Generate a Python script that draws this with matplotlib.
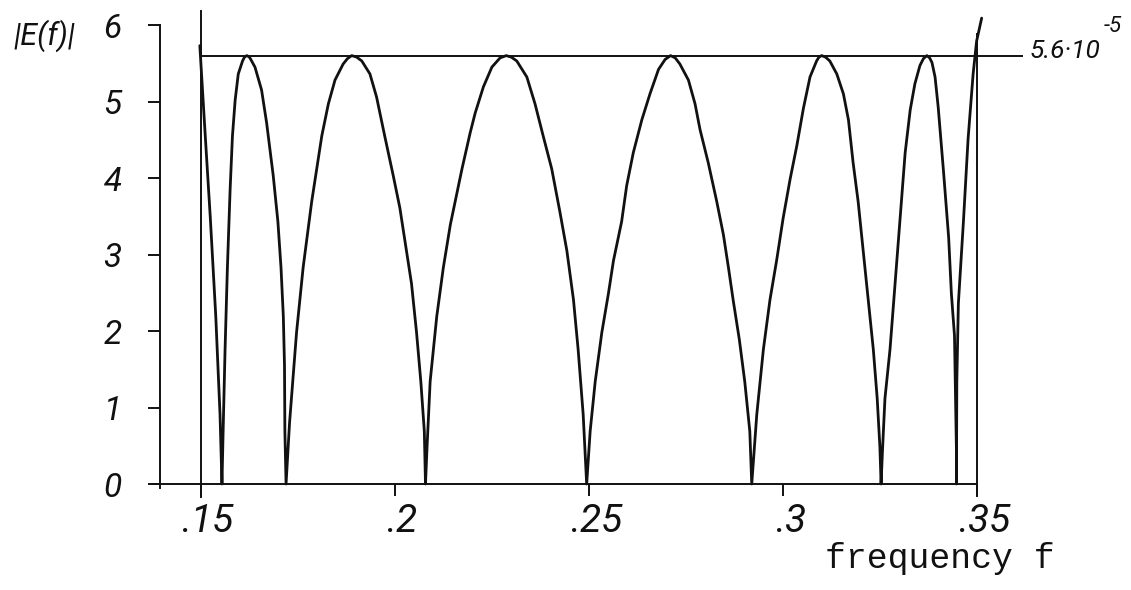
import matplotlib
matplotlib.use("Agg")
import matplotlib.pyplot as plt
from matplotlib.transforms import ScaledTranslation

# |E(f)| of the equiripple approximation over the band .15 - .35 (units of 1e-5)
freq = [
    0.1498, 0.1512, 0.1525, 0.1539, 0.1550, 0.1555,
    0.1558, 0.1563, 0.1569, 0.1576, 0.1582, 0.1589, 0.1597, 0.1608, 0.1613,
    0.1619, 0.1623, 0.1627, 0.1640, 0.1657, 0.1670, 0.1687, 0.1699, 0.1707,
    0.1713, 0.1716, 0.1717, 0.1720,
    0.1729, 0.1747, 0.1764, 0.1786, 0.1812, 0.1829, 0.1846, 0.1867, 0.1878,
    0.1889, 0.1902, 0.1915, 0.1936, 0.1953, 0.1974, 0.1996, 0.2013, 0.2030,
    0.2043, 0.2056, 0.2067, 0.2076, 0.2079,
    0.2083, 0.2091, 0.2108, 0.2125, 0.2143, 0.2173, 0.2194, 0.2207, 0.2228,
    0.2250, 0.2271, 0.2287, 0.2300, 0.2314, 0.2340, 0.2361, 0.2382, 0.2404,
    0.2425, 0.2443, 0.2460, 0.2472, 0.2485, 0.2494,
    0.2503, 0.2516, 0.2533, 0.2550, 0.2563, 0.2584, 0.2597, 0.2614, 0.2636,
    0.2657, 0.2679, 0.2696, 0.2710, 0.2722, 0.2734, 0.2756, 0.2773, 0.2786,
    0.2807, 0.2829, 0.2846, 0.2859, 0.2871, 0.2887, 0.2901, 0.2914, 0.2919,
    0.2932, 0.2949, 0.2966, 0.2983, 0.3000, 0.3018, 0.3035, 0.3052, 0.3069,
    0.3086, 0.3092, 0.3099, 0.3109, 0.3120, 0.3138, 0.3155, 0.3168, 0.3180,
    0.3193, 0.3206, 0.3219, 0.3232, 0.3242, 0.3249, 0.3252,
    0.3256, 0.3262, 0.3275, 0.3288, 0.3301, 0.3314, 0.3327, 0.3339, 0.3352,
    0.3361, 0.3370, 0.3377, 0.3383, 0.3391, 0.3399, 0.3413, 0.3426, 0.3433,
    0.3441, 0.3444, 0.3446, 0.3446,
    0.3447, 0.3451, 0.3464, 0.3476, 0.3489, 0.3498, 0.3511,
]
err = [
    5.73, 4.55, 3.48, 2.20, 0.91, 0.00,
    0.69, 1.76, 2.83, 3.85, 4.55, 5.02, 5.36, 5.53, 5.58,
    5.60, 5.59, 5.57, 5.45, 5.15, 4.72, 4.03, 3.43, 2.83,
    2.19, 1.55, 0.69, 0.00,
    0.80, 1.98, 2.83, 3.69, 4.55, 4.97, 5.28, 5.49, 5.56,
    5.60, 5.58, 5.53, 5.36, 5.06, 4.55, 4.03, 3.61, 3.05,
    2.62, 1.98, 1.34, 0.69, 0.00,
    0.48, 1.34, 2.19, 2.83, 3.39, 4.12, 4.59, 4.85, 5.19,
    5.45, 5.57, 5.60, 5.58, 5.53, 5.32, 4.97, 4.55, 4.12,
    3.56, 3.05, 2.41, 1.76, 0.91, 0.00,
    0.69, 1.34, 1.98, 2.49, 2.92, 3.43, 3.90, 4.33, 4.76,
    5.10, 5.42, 5.55, 5.60, 5.57, 5.49, 5.28, 4.97, 4.63,
    4.20, 3.69, 3.26, 2.83, 2.41, 1.89, 1.34, 0.69, 0.00,
    0.91, 1.76, 2.41, 2.92, 3.48, 3.99, 4.42, 4.91, 5.32,
    5.53, 5.58, 5.60, 5.58, 5.53, 5.36, 5.10, 4.76, 4.20,
    3.69, 3.05, 2.41, 1.76, 1.12, 0.48, 0.00,
    0.48, 1.12, 1.76, 2.62, 3.48, 4.33, 4.89, 5.23, 5.47,
    5.56, 5.60, 5.57, 5.51, 5.32, 4.93, 4.07, 3.22, 2.49,
    1.94, 1.08, 0.44, 0.00,
    1.34, 2.36, 3.43, 4.51, 5.36, 5.79, 6.09,
]

bound = 5.6                      # equiripple level, x 1e-5
band_edges = [0.15, 0.35]
xticks = [0.15, 0.20, 0.25, 0.30, 0.35]
xtick_labels = [".15", ".2", ".25", ".3", ".35"]
yticks = [0, 1, 2, 3, 4, 5, 6]
ytick_labels = ["0", "1", "2", "3", "4", "5", "6"]

plt.rcParams["font.family"] = ["Roboto", "DejaVu Sans"]
plt.rcParams["font.style"] = "italic"
plt.rcParams["font.weight"] = "normal"

INK = "#111111"

fig = plt.figure(figsize=(11.31, 5.90), dpi=100)
ax = fig.add_axes([0, 0, 1, 1])
ax.set_xlim(0.098352, 0.389547)
ax.set_ylim(-1.3856, 6.3268)
ax.patch.set_visible(False)

for side in ("top", "right"):
    ax.spines[side].set_visible(False)
ax.spines["left"].set_position(("data", 0.13955))
ax.spines["bottom"].set_position(("data", 0.0))
ax.spines["left"].set_bounds(-0.05, 6)
ax.spines["bottom"].set_bounds(0.1375, 0.35)
for side in ("left", "bottom"):
    ax.spines[side].set_linewidth(1.4)
    ax.spines[side].set_color(INK)

ax.set_xticks(xticks)
ax.set_xticklabels(xtick_labels)
ax.set_yticks(yticks)
ax.set_yticklabels(ytick_labels)
ax.tick_params(axis="y", direction="out", length=8.6, width=1.4, pad=19,
               labelsize=24, colors=INK)
ax.tick_params(axis="x", direction="out", length=8.6, width=1.4, pad=5,
               labelsize=28, colors=INK)
# hand-lettered frequency labels sit a little right of their ticks
shift = ScaledTranslation(7 / 100, 0, fig.dpi_scale_trans)
for lbl in ax.get_xticklabels():
    lbl.set_transform(lbl.get_transform() + shift)

# band edges and the error bound
ax.vlines(band_edges[0], -0.18, 6.2, color=INK, lw=1.4)
ax.vlines(band_edges[1], -0.17, 5.9, color=INK, lw=1.4)
ax.hlines(bound, band_edges[0], 0.3617, color=INK, lw=1.4)

# error curve
ax.plot(freq, err, color=INK, lw=2.0, solid_joinstyle="round",
        solid_capstyle="round")

# bound label
ax.annotate("5.6·10", xy=(0.3617, bound), xytext=(5, 3),
            textcoords="offset points", ha="left", va="center",
            fontsize=19, color=INK)
ax.annotate("-5", xy=(0.3617, bound), xytext=(58, 21),
            textcoords="offset points", ha="left", va="center",
            fontsize=16, color=INK)

# axis titles
fig.text(13 / 1131, 1 - 36 / 590, "|E(f)|", ha="left", va="center",
         fontsize=22, color=INK)
fig.text(940 / 1131, 1 - 568 / 590, "frequency f", ha="center",
         va="baseline", fontsize=25, color=INK,
         family=["Liberation Mono", "DejaVu Sans Mono"],
         style="normal", weight="normal")

fig.savefig("out.png", dpi=100, facecolor="white")
